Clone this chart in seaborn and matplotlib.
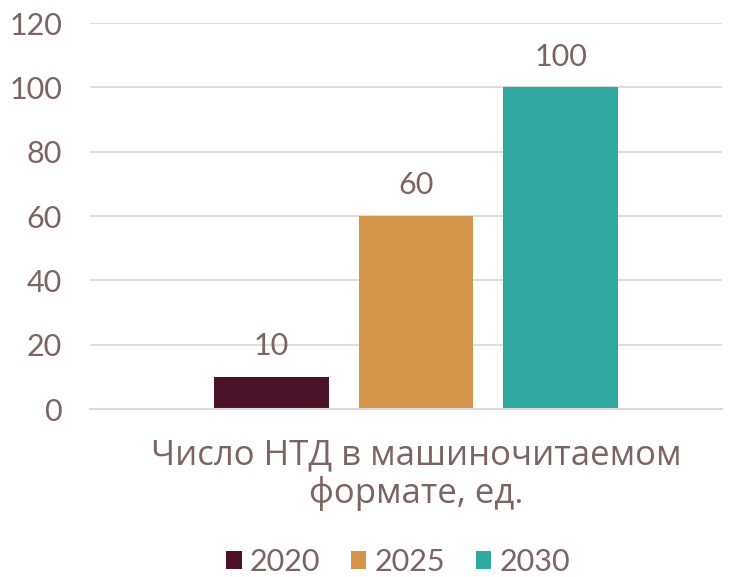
import matplotlib
matplotlib.use("Agg")
import matplotlib.pyplot as plt
import seaborn as sns
import pandas as pd

category = "Число НТД в машиночитаемом\nформате, ед."
years = ["2020", "2025", "2030"]
values = [10, 60, 100]
colors = ["#4a1329", "#d4954a", "#2fa8a0"]

txt = "#7b6463"

sns.set_style("white")
plt.rcParams['font.family'] = ["Lato", "DejaVu Sans"]

df = pd.DataFrame({"cat": [category] * 3, "year": years, "value": values})

fig, ax = plt.subplots(figsize=(7.34, 5.77), dpi=100)
fig.subplots_adjust(left=0.1226, right=0.9837, top=0.960, bottom=0.291)

sns.barplot(data=df, x="cat", y="value", hue="year", palette=colors,
            width=0.8, gap=0.21, saturation=1, linewidth=0, ax=ax, legend=True)

for c in ax.containers:
    ax.bar_label(c, padding=12, fontsize=22, color=txt)

ax.set_ylim(0, 120)
ax.set_yticks(range(0, 121, 20))
ax.set_xlim(-0.6016, 0.5647)
ax.yaxis.grid(True, color="#dcd6d6", linewidth=1.2)
ax.set_axisbelow(True)
for s in ["top", "right", "left"]:
    ax.spines[s].set_visible(False)
ax.spines["bottom"].set_color("#dcd6d6")
ax.spines["bottom"].set_linewidth(1.5)
ax.tick_params(axis="y", labelsize=22, labelcolor=txt, length=0, pad=20)
ax.tick_params(axis="x", length=0, pad=21)
for lbl in ax.get_xticklabels():
    lbl.set_fontfamily(["Open Sans", "DejaVu Sans"])
    lbl.set_fontsize(25)
    lbl.set_color(txt)
    lbl.set_linespacing(1.15)
ax.set_xlabel("")
ax.set_ylabel("")

ax.legend(loc="center", bbox_to_anchor=(0.542, 0.026), bbox_transform=fig.transFigure,
          ncol=3, frameon=False, fontsize=22, labelcolor=txt,
          handlelength=0.52, handleheight=0.52, handletextpad=0.26, columnspacing=1.0)

fig.savefig("out.png", dpi=100)
